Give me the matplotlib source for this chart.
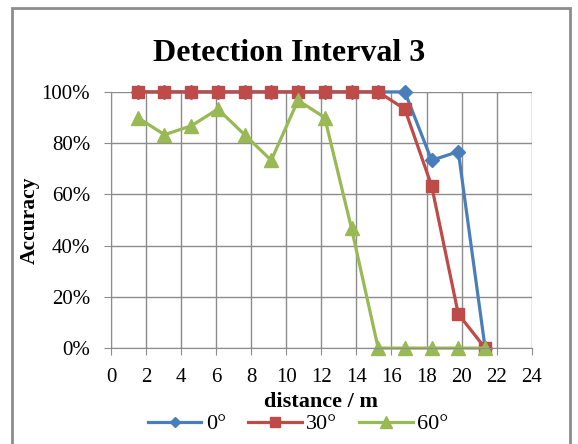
import numpy as np
import matplotlib.pyplot as plt
from matplotlib.patches import Rectangle
from matplotlib.ticker import PercentFormatter

# Data (distance in m, accuracy in %)
dist = [1.52, 3.05, 4.57, 6.10, 7.62, 9.14, 10.67, 12.19, 13.72, 15.24, 16.76, 18.29, 19.81, 21.34]
acc_0 = [100, 100, 100, 100, 100, 100, 100, 100, 100, 100, 100, 73.3, 76.7, 0]
acc_30 = [100, 100, 100, 100, 100, 100, 100, 100, 100, 100, 93.3, 63.3, 13.3, 0]
acc_60 = [90, 83.3, 86.7, 93.3, 83.3, 73.3, 96.7, 90, 46.7, 0, 0, 0, 0, 0]
labels = ["0°", "30°", "60°"]

plt.rcParams['font.family'] = ['Liberation Serif', 'DejaVu Serif']

fig = plt.figure(figsize=(5.78, 4.44), dpi=100)
ax = fig.add_axes([0.192, 0.216, 0.728, 0.577])

# Chart border
fig.patches.append(Rectangle((12/578, -0.05), (570-12)/578, 1.05 - 8/444, transform=fig.transFigure,
                             fill=False, edgecolor='#8c8c8c', linewidth=2))

ax.plot(dist, acc_0, color='#4a7ebb', marker='D', markersize=7, linewidth=2.3, label=labels[0], clip_on=False)
ax.plot(dist, acc_30, color='#be4b48', marker='s', markersize=9, linewidth=2.3, label=labels[1], clip_on=False)
ax.plot(dist, acc_60, color='#98b954', marker='^', markersize=10, linewidth=2.3, label=labels[2], clip_on=False)

ax.set_xlim(0, 24)
ax.set_ylim(0, 100)
ax.set_xticks(np.arange(0, 25, 2))
ax.set_yticks(np.arange(0, 101, 20))
ax.yaxis.set_major_formatter(PercentFormatter(decimals=0))
ax.grid(True, color='#8c8c8c', linewidth=1)
ax.set_axisbelow(True)
for s in ax.spines.values():
    s.set_color('#8c8c8c')
ax.tick_params(colors='#8c8c8c', labelcolor='black', labelsize=15, length=5)
ax.tick_params(axis='x', pad=9)
ax.tick_params(axis='y', pad=10)
for s in ['top', 'right']:
    ax.spines[s].set_visible(False)

fig.suptitle("Detection Interval 3", fontsize=23, fontweight='bold', x=0.5, y=0.88, va='center')
ax.set_xlabel("distance / m", fontsize=16, fontweight='bold', labelpad=4)
ax.set_ylabel("Accuracy", fontsize=15.5, fontweight='bold', labelpad=1)

fig.legend(loc='center', bbox_to_anchor=(0.516, 1 - 424/444), ncol=3, frameon=False,
           fontsize=16, handlelength=2.4, columnspacing=1.0, handletextpad=0.2, markerscale=0.8)

fig.savefig("out.png", dpi=100)
